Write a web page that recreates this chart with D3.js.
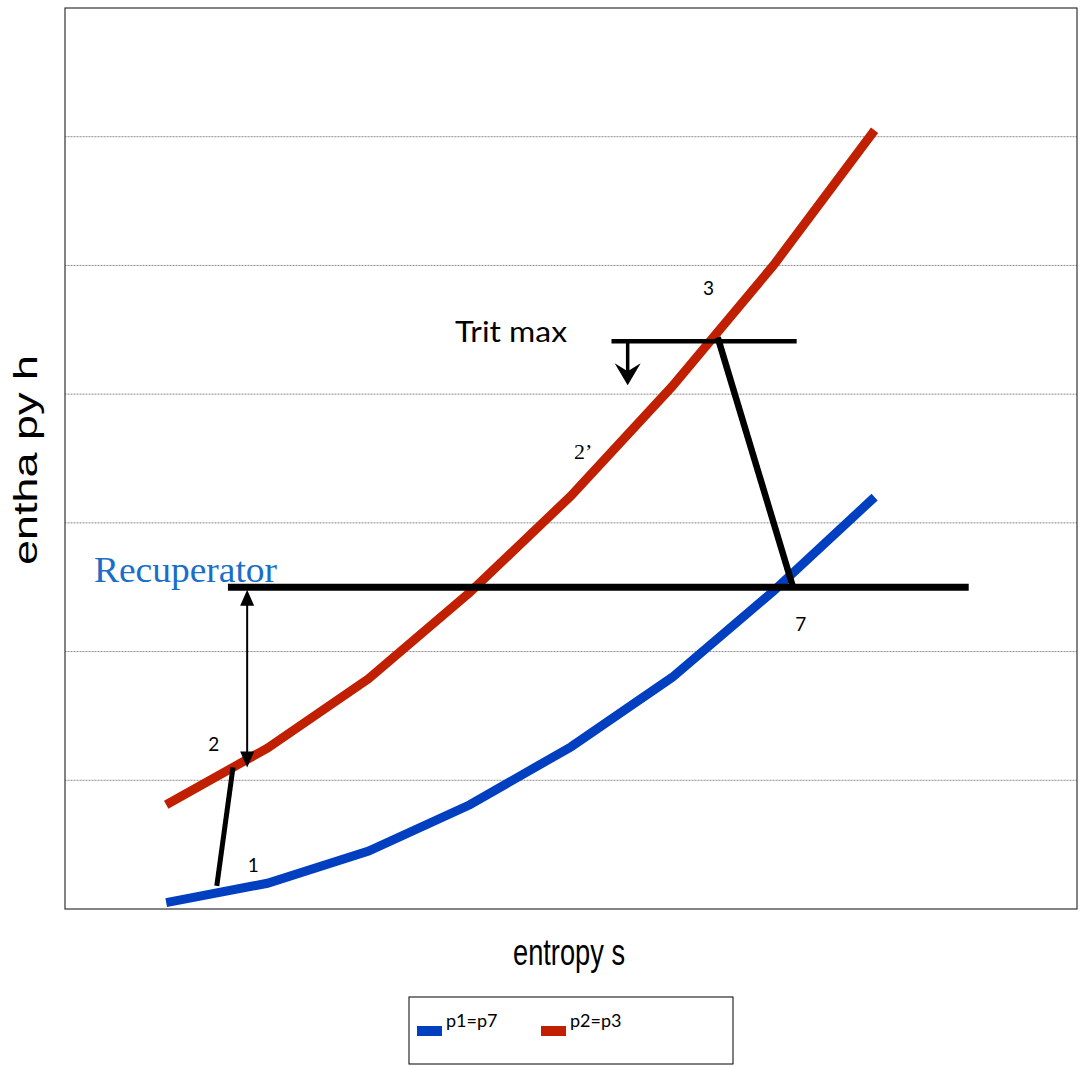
<!DOCTYPE html>
<html>
<head>
<meta charset="utf-8">
<script src="https://cdn.jsdelivr.net/npm/d3@7"></script>
<style>
  body { margin: 0; background: #fff; }
  svg { display: block; }
</style>
</head>
<body>
<svg id="chart" width="1084" height="1067"></svg>
<script>
// entropy positions (category index) and enthalpy values
const sPoints = [1, 2, 3, 4, 5, 6, 7, 8];
const lowPressure = [0.05, 0.20, 0.45, 0.81, 1.26, 1.80, 2.47, 3.20];   // p1=p7
const highPressure = [0.81, 1.25, 1.79, 2.46, 3.21, 4.06, 5.00, 6.05];  // p2=p3
const gridValues = [1, 2, 3, 4, 5, 6];
const seriesNames = ["p1=p7", "p2=p3"];

// annotation segments in data units [s, h]
const recuperatorLine = [[1.61, 2.50], [8.93, 2.50]];
const tritLine = [[5.40, 4.41], [7.23, 4.41]];
const turbineLine = [[6.45, 4.44], [7.19, 2.51]];
const compressorLine = [[1.50, 0.18], [1.66, 1.10]];
const tritArrow = [[5.56, 4.41], [5.56, 4.07]];
const recupArrow = [[1.80, 2.48], [1.80, 1.10]];
const pointLabels = [
  { text: "1", s: 1.86, h: 0.29, serif: false },
  { text: "2", s: 1.47, h: 1.23, serif: false },
  { text: "2\u2019", s: 5.12, h: 3.50, serif: true },
  { text: "3", s: 6.36, h: 4.77, serif: false },
  { text: "7", s: 7.27, h: 2.16, serif: false }
];

const margin = { top: 8, right: 7, bottom: 158, left: 65 };
const width = 1084 - margin.left - margin.right;
const height = 1067 - margin.top - margin.bottom;

const svg = d3.select("#chart");
const g = svg.append("g").attr("transform", `translate(${margin.left},${margin.top})`);

const x = d3.scaleLinear().domain([0, 10]).range([0, width]);
const y = d3.scaleLinear().domain([0, 7]).range([height, 0]);

// gridlines
g.selectAll(".grid")
  .data(gridValues)
  .join("line")
    .attr("x1", 0).attr("x2", width)
    .attr("y1", d => y(d)).attr("y2", d => y(d))
    .attr("stroke", "#8a8a8a")
    .attr("stroke-width", 1)
    .attr("stroke-dasharray", "1,0.5");

// plot frame
g.append("rect")
  .attr("width", width).attr("height", height)
  .attr("fill", "none")
  .attr("stroke", "#333")
  .attr("stroke-width", 1.2);

const line = d3.line().x(d => x(d[0])).y(d => y(d[1]));

const series = [
  { name: seriesNames[0], color: "#0040c0", values: lowPressure },
  { name: seriesNames[1], color: "#c02000", values: highPressure }
];

g.selectAll(".series")
  .data(series)
  .join("path")
    .attr("d", d => line(d.values.map((v, i) => [sPoints[i], v])))
    .attr("fill", "none")
    .attr("stroke", d => d.color)
    .attr("stroke-width", 9);

// annotation lines
const segs = [
  { pts: recuperatorLine, w: 7 },
  { pts: tritLine, w: 4.5 },
  { pts: turbineLine, w: 6.5 },
  { pts: compressorLine, w: 5 }
];
g.selectAll(".seg")
  .data(segs)
  .join("path")
    .attr("d", d => line(d.pts))
    .attr("stroke", "#000")
    .attr("stroke-width", d => d.w)
    .attr("fill", "none");

// arrows
function arrowHead(tip, dir, w, l, notch) {
  // dir: +1 pointing down, -1 pointing up
  const [tx, ty] = tip;
  return `M${tx},${ty} L${tx - w / 2},${ty - dir * l} L${tx},${ty - dir * (l - notch)} L${tx + w / 2},${ty - dir * l} Z`;
}

// Trit max down arrow
g.append("line")
  .attr("x1", x(tritArrow[0][0])).attr("x2", x(tritArrow[1][0]))
  .attr("y1", y(tritArrow[0][1])).attr("y2", y(tritArrow[1][1]) - 10)
  .attr("stroke", "#000").attr("stroke-width", 3.5);
g.append("path")
  .attr("d", arrowHead([x(tritArrow[1][0]), y(tritArrow[1][1])], 1, 26, 22, 8))
  .attr("fill", "#000");

// recuperator double arrow
g.append("line")
  .attr("x1", x(recupArrow[0][0])).attr("x2", x(recupArrow[1][0]))
  .attr("y1", y(recupArrow[0][1]) + 8).attr("y2", y(recupArrow[1][1]) - 8)
  .attr("stroke", "#000").attr("stroke-width", 2);
g.append("path")
  .attr("d", arrowHead([x(recupArrow[0][0]), y(recupArrow[0][1])], -1, 14, 16, 0))
  .attr("fill", "#000");
g.append("path")
  .attr("d", arrowHead([x(recupArrow[1][0]), y(recupArrow[1][1])], 1, 14, 16, 0))
  .attr("fill", "#000");

// point labels
g.selectAll(".plabel")
  .data(pointLabels)
  .join("text")
    .attr("x", d => x(d.s))
    .attr("y", d => y(d.h))
    .attr("text-anchor", "middle")
    .attr("font-family", d => d.serif ? "Liberation Serif, serif" : "Lato, 'Open Sans', sans-serif")
    .attr("font-size", d => d.serif ? 22 : 19)
    .attr("fill", "#000")
    .text(d => d.text);

g.append("text")
  .attr("x", 455 - margin.left).attr("y", 342 - margin.top)
  .attr("font-family", "Lato, 'Open Sans', sans-serif")
  .attr("font-size", 29)
  .attr("textLength", 112)
  .attr("lengthAdjust", "spacingAndGlyphs")
  .text("Trit max");

g.append("text")
  .attr("x", 94 - margin.left).attr("y", 582 - margin.top)
  .attr("font-family", "Liberation Serif, 'Times New Roman', serif")
  .attr("font-size", 35)
  .attr("fill", "#1a6ec8")
  .attr("textLength", 183)
  .attr("lengthAdjust", "spacingAndGlyphs")
  .text("Recuperator");

// axis titles
svg.append("text")
  .attr("transform", "translate(37,460) rotate(-90)")
  .attr("text-anchor", "middle")
  .attr("font-family", "Liberation Sans, Arial, sans-serif")
  .attr("font-size", 33)
  .attr("textLength", 210)
  .attr("lengthAdjust", "spacingAndGlyphs")
  .text("entha py h");

svg.append("text")
  .attr("x", 569).attr("y", 965)
  .attr("text-anchor", "middle")
  .attr("font-family", "'Liberation Sans Narrow', 'Liberation Sans', sans-serif")
  .attr("font-size", 37)
  .attr("textLength", 112)
  .attr("lengthAdjust", "spacingAndGlyphs")
  .text("entropy s");

// legend
const legend = svg.append("g").attr("transform", "translate(409,997)");
legend.append("rect")
  .attr("width", 324).attr("height", 67)
  .attr("fill", "#fff").attr("stroke", "#000").attr("stroke-width", 1);
const items = legend.selectAll(".item")
  .data(series)
  .join("g")
    .attr("transform", (d, i) => `translate(${8 + i * 124},0)`);
items.append("rect")
  .attr("y", 29).attr("width", 25).attr("height", 10)
  .attr("fill", d => d.color);
items.append("text")
  .attr("x", 29).attr("y", 30)
  .attr("font-family", "Lato, 'Open Sans', sans-serif")
  .attr("font-size", 18)
  .text(d => d.name);
</script>
</body>
</html>
